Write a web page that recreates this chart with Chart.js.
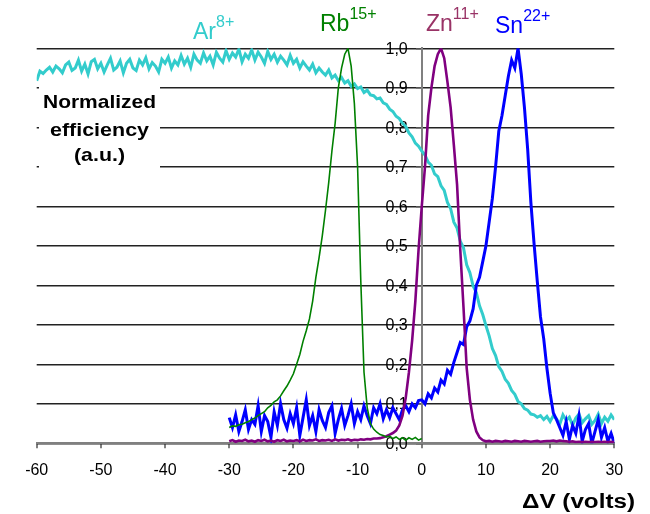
<!DOCTYPE html>
<html>
<head>
<meta charset="utf-8">
<script src="https://cdn.jsdelivr.net/npm/chart.js@4.4.1/dist/chart.umd.min.js"></script>
<style>
  body { margin: 0; background: #fff; }
  canvas { display: block; }
</style>
</head>
<body>
<canvas id="grafico" width="650" height="514"></canvas>
<script>
// Paso de muestreo en voltios (todas las series)
const paso = 0.5;

// Ar8+ : de -60 a 30 V
const inicioAr = -60;
const valoresAr = [
  0.918, 0.942, 0.936, 0.945, 0.952, 0.940, 0.955, 0.948, 0.938, 0.958,
  0.965, 0.944, 0.950, 0.970, 0.942, 0.960, 0.935, 0.966, 0.972, 0.948,
  0.962, 0.940, 0.958, 0.975, 0.945, 0.952, 0.968, 0.938, 0.962, 0.972,
  0.950, 0.944, 0.970, 0.958, 0.976, 0.948, 0.964, 0.955, 0.940, 0.972,
  0.962, 0.978, 0.950, 0.968, 0.958, 0.982, 0.960, 0.975, 0.952, 0.985,
  0.970, 0.962, 0.988, 0.968, 0.980, 0.958, 0.990, 0.975, 0.965, 0.994,
  0.972, 0.988, 0.978, 0.998, 0.966, 0.985, 0.975, 0.996, 0.970, 0.990,
  0.978, 0.962, 0.992, 0.972, 0.985, 0.965, 0.980, 0.970, 0.958, 0.982,
  0.962, 0.972, 0.950, 0.966, 0.955, 0.945, 0.960, 0.938, 0.950, 0.940,
  0.932, 0.945, 0.925, 0.932, 0.918, 0.926, 0.912, 0.918, 0.904, 0.910,
  0.898, 0.902, 0.888, 0.894, 0.882, 0.880, 0.872, 0.874, 0.862, 0.858,
  0.846, 0.840, 0.828, 0.822, 0.810, 0.802, 0.786, 0.776, 0.760, 0.752,
  0.740, 0.730, 0.712, 0.704, 0.682, 0.675, 0.652, 0.640, 0.610, 0.594,
  0.560, 0.545, 0.512, 0.495, 0.452, 0.432, 0.398, 0.382, 0.348, 0.326,
  0.298, 0.272, 0.240, 0.222, 0.194, 0.182, 0.162, 0.152, 0.134, 0.124,
  0.106, 0.100, 0.088, 0.084, 0.074, 0.072, 0.066, 0.070, 0.060, 0.068,
  0.055, 0.070, 0.062, 0.048, 0.072, 0.058, 0.066, 0.046, 0.064, 0.074,
  0.052, 0.062, 0.070, 0.048, 0.058, 0.074, 0.050, 0.066, 0.056, 0.072,
  0.060
];

// Rb15+ : de -30 a 0 V
const inicioRb = -30;
const valoresRb = [
  0.040, 0.044, 0.043, 0.047, 0.048, 0.052, 0.055, 0.060, 0.064, 0.070,
  0.075, 0.080, 0.090, 0.096, 0.105, 0.110, 0.120, 0.133, 0.145, 0.160,
  0.176, 0.200, 0.225, 0.258, 0.285, 0.315, 0.360, 0.420, 0.470, 0.525,
  0.590, 0.660, 0.740, 0.810, 0.900, 0.950, 0.985, 1.000, 0.955, 0.860,
  0.700, 0.410, 0.180, 0.090, 0.050, 0.036, 0.028, 0.022, 0.020, 0.016,
  0.018, 0.012, 0.016, 0.010, 0.014, 0.008, 0.014, 0.010, 0.015, 0.008,
  0.012
];

// Zn11+ : de -30 a 30 V
const inicioZn = -30;
const valoresZn = [
  0.005, 0.008, 0.004, 0.007, 0.006, 0.009, 0.005, 0.007, 0.004, 0.008,
  0.006, 0.009, 0.005, 0.007, 0.004, 0.008, 0.006, 0.009, 0.005, 0.007,
  0.006, 0.008, 0.005, 0.009, 0.006, 0.008, 0.007, 0.010, 0.006, 0.008,
  0.007, 0.009, 0.006, 0.010, 0.007, 0.009, 0.008, 0.010, 0.007, 0.009,
  0.008, 0.010, 0.009, 0.011, 0.010, 0.012, 0.012, 0.013, 0.015, 0.018,
  0.022, 0.026, 0.032, 0.045, 0.070, 0.115, 0.180, 0.260, 0.360, 0.490,
  0.600, 0.700, 0.830, 0.900, 0.955, 0.985, 1.000, 0.975, 0.915, 0.850,
  0.755, 0.655, 0.490, 0.345, 0.190, 0.110, 0.060, 0.030, 0.015, 0.008,
  0.005, 0.006, 0.004, 0.006, 0.005, 0.004, 0.006, 0.005, 0.004, 0.006,
  0.005, 0.004, 0.006, 0.005, 0.004, 0.005, 0.006, 0.004, 0.005, 0.006,
  0.006, 0.007, 0.005, 0.007, 0.006, 0.005, 0.004, 0.005, 0.003, 0.004,
  0.003, 0.004, 0.003, 0.004, 0.003, 0.004, 0.003, 0.004, 0.003, 0.004,
  0.003
];

// Sn22+ : de -30 a 30 V
const inicioSn = -30;
const valoresSn = [
  0.065, 0.040, 0.072, 0.030, 0.055, 0.085, 0.035, 0.060, 0.048, 0.095,
  0.030, 0.070, 0.055, 0.015, 0.080, 0.045, 0.100, 0.060, 0.038, 0.075,
  0.050, 0.090, 0.020, 0.065, 0.110, 0.045, 0.070, 0.030, 0.085, 0.058,
  0.040, 0.078, 0.095, 0.025, 0.060, 0.088, 0.045, 0.070, 0.100, 0.050,
  0.080, 0.060, 0.095, 0.070, 0.050, 0.090, 0.075, 0.100, 0.062, 0.085,
  0.065, 0.090, 0.075, 0.060, 0.085, 0.095, 0.080, 0.100, 0.090, 0.108,
  0.110, 0.100, 0.125, 0.115, 0.140, 0.130, 0.160, 0.150, 0.185, 0.175,
  0.205, 0.230, 0.255, 0.250, 0.295, 0.310, 0.340, 0.400, 0.420, 0.460,
  0.500, 0.560, 0.620, 0.700, 0.790, 0.830, 0.880, 0.930, 0.970, 0.950,
  1.000, 0.935, 0.850, 0.745, 0.610, 0.505, 0.410, 0.320, 0.265, 0.190,
  0.127, 0.077, 0.060, 0.040, 0.020, 0.055, 0.010, 0.045, 0.025, 0.070,
  0.005, 0.035, 0.050, 0.000, 0.030, 0.060, 0.015, 0.040, 0.005, 0.025,
  0.000
];

// Ejes
const ticksX = [-60, -50, -40, -30, -20, -10, 0, 10, 20, 30];
const ticksY = [0, 0.1, 0.2, 0.3, 0.4, 0.5, 0.6, 0.7, 0.8, 0.9, 1.0];

const fuente = '"Liberation Sans", Arial, sans-serif';

function puntos(inicio, valores) {
  return valores.map((y, i) => ({ x: inicio + i * paso, y: y }));
}

// Texto estirado en horizontal (el original viene de Excel)
function textoAncho(c, t, x, y, anchoObjetivo) {
  const w = c.measureText(t).width;
  c.save();
  c.translate(x, y);
  c.scale(anchoObjetivo / w, 1);
  c.fillText(t, 0, 0);
  c.restore();
}

function etiquetaIon(c, base, sup, x, y, color) {
  c.fillStyle = color;
  c.textAlign = 'left';
  c.font = '23px ' + fuente;
  c.fillText(base, x, y);
  const w = c.measureText(base).width;
  c.font = '16px ' + fuente;
  c.fillText(sup, x + w, y - 12);
}

const textos = {
  id: 'textos',
  beforeDatasetsDraw(chart) {
    const c = chart.ctx;
    const ejeX = chart.scales.x;
    const ejeY = chart.scales.y;
    c.save();
    // etiquetas del eje Y, a la izquierda de x = 0
    c.fillStyle = '#000';
    c.font = '16px ' + fuente;
    c.textAlign = 'right';
    c.textBaseline = 'middle';
    const xEtiq = ejeX.getPixelForValue(0) - 14;
    ticksY.forEach(v => {
      c.fillText(v.toFixed(1).replace('.', ','), xEtiq, ejeY.getPixelForValue(v) + 1);
    });
    // caja blanca del titulo del eje Y
    c.fillStyle = '#fff';
    c.fillRect(39, 84, 121, 86);
    c.fillStyle = '#000';
    c.textAlign = 'left';
    c.textBaseline = 'alphabetic';
    c.font = 'bold 19px ' + fuente;
    textoAncho(c, 'Normalized', 43, 108, 113);
    textoAncho(c, 'efficiency', 50, 136, 99);
    textoAncho(c, '(a.u.)', 74, 161, 51);
    c.restore();
  },
  afterDraw(chart) {
    const c = chart.ctx;
    c.save();
    c.textBaseline = 'alphabetic';
    etiquetaIon(c, 'Ar', '8+', 193, 39, '#33CCCC');
    etiquetaIon(c, 'Rb', '15+', 320, 31, '#008000');
    etiquetaIon(c, 'Zn', '11+', 426, 31, '#993366');
    etiquetaIon(c, 'Sn', '22+', 495, 33, '#0000FF');
    c.fillStyle = '#000';
    c.font = 'bold 20px ' + fuente;
    textoAncho(c, '\u0394V (volts)', 522, 508, 113);
    c.restore();
  }
};

const ctx = document.getElementById('grafico').getContext('2d');

new Chart(ctx, {
  type: 'line',
  data: {
    datasets: [
      { label: 'Rb15+', data: puntos(inicioRb, valoresRb), borderColor: '#008000', borderWidth: 1.6 },
      { label: 'Zn11+', data: puntos(inicioZn, valoresZn), borderColor: '#800080', borderWidth: 2.6 },
      { label: 'Sn22+', data: puntos(inicioSn, valoresSn), borderColor: '#0000FF', borderWidth: 3 },
      { label: 'Ar8+', data: puntos(inicioAr, valoresAr), borderColor: '#33CCCC', borderWidth: 3 }
    ]
  },
  options: {
    responsive: false,
    animation: false,
    parsing: false,
    layout: { padding: { left: 36.7, right: 35.7, top: 48.3, bottom: 0 } },
    elements: {
      point: { radius: 0 },
      line: { tension: 0, fill: false }
    },
    plugins: {
      legend: { display: false },
      tooltip: { enabled: false }
    },
    scales: {
      x: {
        type: 'linear',
        min: -60,
        max: 30,
        afterBuildTicks: (s) => { s.ticks = ticksX.map(v => ({ value: v })); },
        afterFit: (s) => { s.height = 70.7; },
        ticks: { color: '#000', font: { family: fuente, size: 16 }, padding: 13 },
        grid: { drawOnChartArea: false, tickLength: 5, tickColor: '#808080', lineWidth: 2 },
        border: { color: '#808080', width: 2 }
      },
      y: {
        type: 'linear',
        min: 0,
        max: 1,
        position: { x: 0 },
        afterBuildTicks: (s) => { s.ticks = ticksY.map(v => ({ value: v })); },
        ticks: { display: false },
        grid: { color: '#222', lineWidth: 1.4, tickLength: 5, tickColor: '#555' },
        border: { color: '#808080', width: 2 }
      }
    }
  },
  plugins: [textos]
});
</script>
</body>
</html>
